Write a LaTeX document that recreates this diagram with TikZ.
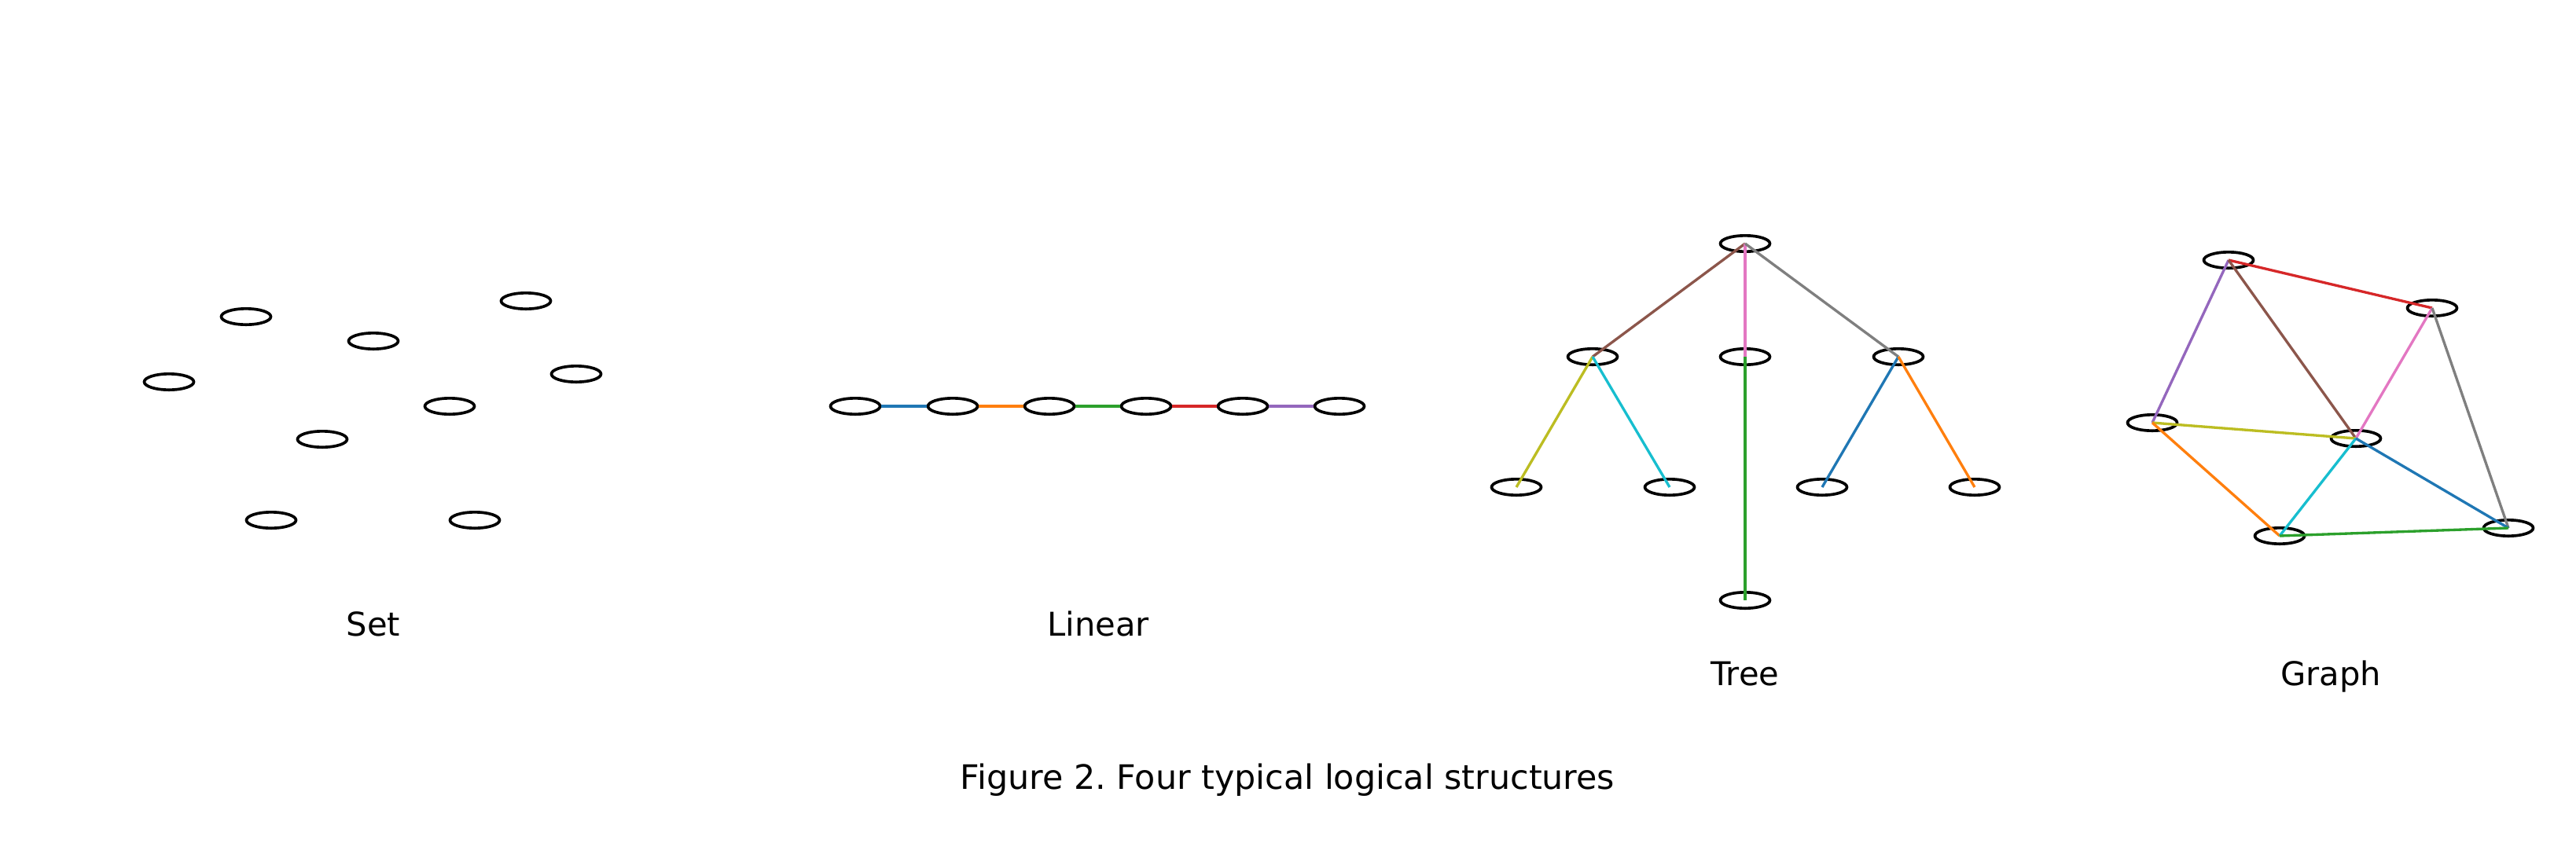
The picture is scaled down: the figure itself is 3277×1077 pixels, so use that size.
\documentclass[tikz,border=0pt]{standalone}
\usepackage{fontspec}
\setmainfont{DejaVu Sans}
\usetikzlibrary{shapes.geometric}
\definecolor{tblue}{HTML}{1F77B4}
\definecolor{torange}{HTML}{FF7F0E}
\definecolor{tgreen}{HTML}{2CA02C}
\definecolor{tred}{HTML}{D62728}
\definecolor{tpurple}{HTML}{9467BD}
\definecolor{tbrown}{HTML}{8C564B}
\definecolor{tpink}{HTML}{E377C2}
\definecolor{tgray}{HTML}{7F7F7F}
\definecolor{tolive}{HTML}{BCBD22}
\definecolor{tcyan}{HTML}{17BECF}
\frenchspacing
\begin{document}
\begin{tikzpicture}[x=0.3pt,y=-0.3pt,
  vnode/.style={ellipse,draw=black,line width=1.1pt,inner sep=0pt,minimum width=18.9pt,minimum height=6.1pt},
  edge/.style={line width=1pt},
  lbl/.style={anchor=base,inner sep=0pt,font=\fontsize{12.5pt}{15pt}\selectfont},
  caplbl/.style={anchor=base,inner sep=0pt,font=\fontsize{12.85pt}{16pt}\selectfont}]
\useasboundingbox[fill=white] (0,0) rectangle (3277,1077);
% Set
\node[vnode] (s1) at (313,403) {};
\node[vnode] (s2) at (669,383) {};
\node[vnode] (s3) at (475,434) {};
\node[vnode] (s4) at (215,486) {};
\node[vnode] (s5) at (733,476) {};
\node[vnode] (s6) at (572,517) {};
\node[vnode] (s7) at (410,559) {};
\node[vnode] (s8) at (345,662) {};
\node[vnode] (s9) at (604,662) {};
\node[lbl] (tset) at (475,809) {Set};
% Linear
\node[vnode] (l1) at (1088,517) {};
\node[vnode] (l2) at (1212,517) {};
\node[vnode] (l3) at (1335,517) {};
\node[vnode] (l4) at (1458,517) {};
\node[vnode] (l5) at (1581,517) {};
\node[vnode] (l6) at (1704,517) {};
\draw[edge,tblue] (l1) -- (l2);
\draw[edge,torange] (l2) -- (l3);
\draw[edge,tgreen] (l3) -- (l4);
\draw[edge,tred] (l4) -- (l5);
\draw[edge,tpurple] (l5) -- (l6);
\node[lbl] (tlin) at (1397,809) {Linear};
% Tree
\node[vnode] (t0) at (2220,310) {};
\node[vnode] (t1) at (2026,454) {};
\node[vnode] (t2) at (2220,454) {};
\node[vnode] (t3) at (2415,454) {};
\node[vnode] (t4) at (1929,620) {};
\node[vnode] (t5) at (2124,620) {};
\node[vnode] (t6) at (2318,620) {};
\node[vnode] (t7) at (2512,620) {};
\node[vnode] (t8) at (2220,764) {};
\draw[edge,tbrown] (t0.center) -- (t1.center);
\draw[edge,tpink] (t0.center) -- (t2.center);
\draw[edge,tgray] (t0.center) -- (t3.center);
\draw[edge,tgreen] (t2.center) -- (t8.center);
\draw[edge,tolive] (t1.center) -- (t4.center);
\draw[edge,tcyan] (t1.center) -- (t5.center);
\draw[edge,tblue] (t3.center) -- (t6.center);
\draw[edge,torange] (t3.center) -- (t7.center);
\node[lbl] (ttree) at (2220,872) {Tree};
% Graph
\node[vnode] (gA) at (2835,331) {};
\node[vnode] (gB) at (3094,392) {};
\node[vnode] (gC) at (2738,538) {};
\node[vnode] (gD) at (2997,558) {};
\node[vnode] (gE) at (2900,682) {};
\node[vnode] (gF) at (3191,672) {};
\draw[edge,tred] (gA.center) -- (gB.center);
\draw[edge,tpurple] (gA.center) -- (gC.center);
\draw[edge,tbrown] (gA.center) -- (gD.center);
\draw[edge,tpink] (gB.center) -- (gD.center);
\draw[edge,tgray] (gB.center) -- (gF.center);
\draw[edge,tolive] (gC.center) -- (gD.center);
\draw[edge,torange] (gC.center) -- (gE.center);
\draw[edge,tcyan] (gD.center) -- (gE.center);
\draw[edge,tblue] (gD.center) -- (gF.center);
\draw[edge,tgreen] (gE.center) -- (gF.center);
\node[lbl] (tgraph) at (2965,872) {Graph};
% Caption
\node[caplbl] (cap) at (1638,1004) {Figure 2. Four typical logical structures};
\end{tikzpicture}
\end{document}
